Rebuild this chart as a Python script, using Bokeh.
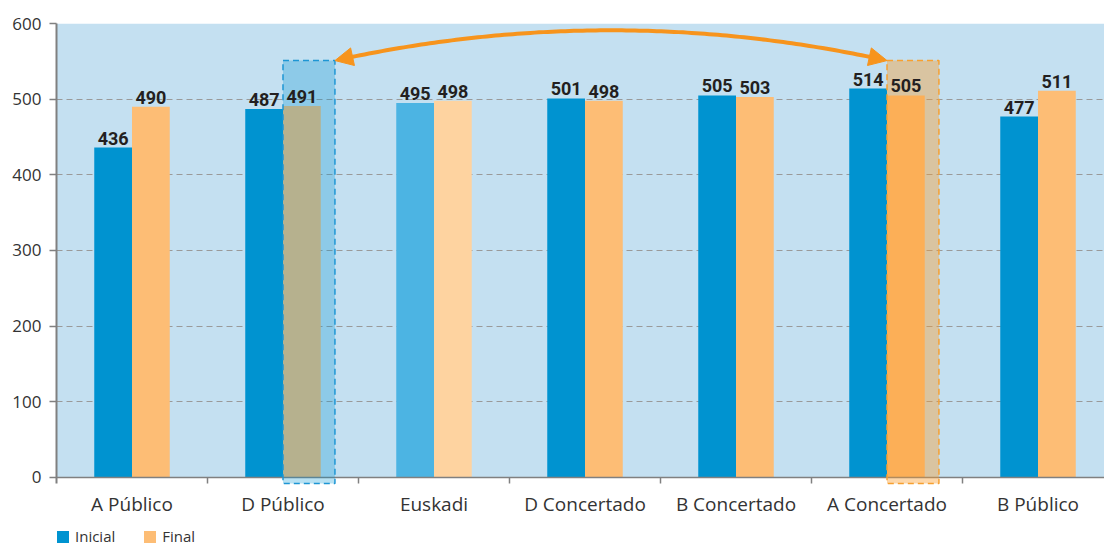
import numpy as np
from bokeh.plotting import figure
from bokeh.models import (ColumnDataSource, FixedTicker, Legend, LegendItem,
                          Arrow, NormalHead)
from bokeh.embed import file_html
from bokeh.resources import INLINE
from bokeh.core.properties import value

# ---------------- data ----------------
categories = ["A Público", "D Público", "Euskadi", "D Concertado",
              "B Concertado", "A Concertado", "B Público"]
inicial = [436, 487, 495, 501, 505, 514, 477]
final = [490, 491, 498, 498, 503, 505, 511]
inicial_colors = ["#0093D0", "#0093D0", "#4CB4E3", "#0093D0", "#0093D0", "#0093D0", "#0093D0"]
final_colors = ["#FDBD75", "#FDBD75", "#FED3A0", "#FDBD75", "#FDBD75", "#FDBD75", "#FDBD75"]
y_ticks = [0, 100, 200, 300, 400, 500, 600]
grid_ticks = [100, 200, 300, 400, 500]
highlight_blue = "D Público"
highlight_orange = "A Concertado"
highlight_top = 551
arrow_peak = 591
series_names = ["Inicial", "Final"]

# ---------------- layout / style ----------------
BG = "#C4E0F1"
ORANGE = "#F7941D"
AXIS_GREY = "#808080"
TXT = "#333333"
LABEL_FONT = "Roboto"

n = len(categories)
bw = 0.25
box_extra = 0.094
centers = np.arange(n) + 0.5
x_end = 1048 / 151.0
px_per_unit = 460 / 608.0          # vertical scale
frame_h = 523                       # frame reaches the page bottom
y_min = y_ticks[-1] - frame_h / px_per_unit
tick_drop = -8                      # boundary ticks hang below the zero line

p = figure(frame_width=1048, frame_height=frame_h, x_range=(0, x_end),
           y_range=(y_min, y_ticks[-1]),
           output_backend="svg", toolbar_location=None,
           min_border_left=56, min_border_right=0, min_border_top=23,
           min_border_bottom=0)
p.background_fill_color = "white"
p.border_fill_color = "white"
p.outline_line_color = None

# plot-area background (0 .. 600)
p.quad(left=[0], right=[n], bottom=[0], top=[y_ticks[-1]], fill_color=BG,
       line_color=None, level="image")

# grid
p.xgrid.visible = False
p.ygrid.ticker = FixedTicker(ticks=grid_ticks)
p.ygrid.grid_line_color = "#9A9A9A"
p.ygrid.grid_line_dash = "6 4"
p.ygrid.grid_line_width = 1

# bars
src_i = ColumnDataSource(dict(x=centers - bw / 2, top=inicial, color=inicial_colors))
src_f = ColumnDataSource(dict(x=centers + bw / 2, top=final, color=final_colors))
r_i = p.vbar(x="x", top="top", bottom=0, width=bw, fill_color="color",
             line_color=None, source=src_i)
r_f = p.vbar(x="x", top="top", bottom=0, width=bw, fill_color="color",
             line_color=None, source=src_f)

# x axis line and category boundary ticks
p.segment(x0=[0], y0=[0], x1=[n], y1=[0], line_color=AXIS_GREY, line_width=1.5)
bounds = np.arange(1, n)
p.segment(x0=bounds, y0=np.zeros(len(bounds)), x1=bounds,
          y1=np.full(len(bounds), tick_drop), line_color=AXIS_GREY, line_width=1.5)

# highlight boxes
ib = categories.index(highlight_blue)
io = categories.index(highlight_orange)
for idx, col, lcol, alpha in [(ib, "#0092D0", "#1E96D4", 0.28),
                              (io, "#FA9B2A", "#F7A030", 0.40)]:
    p.quad(left=[centers[idx]], right=[centers[idx] + bw + box_extra],
           bottom=[tick_drop], top=[highlight_top], fill_color=col, fill_alpha=alpha,
           line_color=lcol, line_dash="6 4", line_width=1.5)

# value labels
for xs, vals in [(centers - bw / 2, inicial), (centers + bw / 2, final)]:
    p.text(x=xs, y=vals, text=[str(v) for v in vals], text_align="center",
           text_baseline="bottom", y_offset=-3, text_font=value(LABEL_FONT),
           text_font_style="bold", text_font_size="18px", text_color="#231F20")

# curved double arrow
x0a = centers[ib] + bw + box_extra
x2a = centers[io]
xc = (x0a + x2a) / 2
yc = 2 * arrow_peak - highlight_top
t = np.linspace(0.03, 0.97, 120)
cx = (1 - t) ** 2 * x0a + 2 * (1 - t) * t * xc + t ** 2 * x2a
cy = (1 - t) ** 2 * highlight_top + 2 * (1 - t) * t * yc + t ** 2 * highlight_top
p.line(cx, cy, line_color=ORANGE, line_width=4)
for (xe, ye) in [(x0a, highlight_top), (x2a, highlight_top)]:
    p.add_layout(Arrow(end=NormalHead(size=18, fill_color=ORANGE, line_color=ORANGE,
                                      line_width=1),
                       x_start=xc, y_start=yc, x_end=xe, y_end=ye, line_alpha=0))

# axes
p.yaxis.ticker = FixedTicker(ticks=y_ticks)
p.yaxis.bounds = (tick_drop, y_ticks[-1])
p.yaxis.axis_line_color = AXIS_GREY
p.yaxis.axis_line_width = 2
p.yaxis.major_tick_line_color = AXIS_GREY
p.yaxis.major_tick_line_width = 1.5
p.yaxis.major_tick_out = 7
p.yaxis.major_tick_in = 0
p.yaxis.minor_tick_line_color = None
p.yaxis.major_label_standoff = 8
p.yaxis.major_label_text_font = "Open Sans"
p.yaxis.major_label_text_font_size = "17px"
p.yaxis.major_label_text_color = TXT

p.xaxis.fixed_location = tick_drop
p.xaxis.ticker = FixedTicker(ticks=list(centers))
p.xaxis.major_label_overrides = {float(c): lab for c, lab in zip(centers, categories)}
p.xaxis.axis_line_color = None
p.xaxis.major_tick_line_color = None
p.xaxis.minor_tick_line_color = None
p.xaxis.major_tick_out = 0
p.xaxis.major_tick_in = 0
p.xaxis.major_label_standoff = 7
p.xaxis.major_label_text_font = "Open Sans"
p.xaxis.major_label_text_font_size = "19px"
p.xaxis.major_label_text_color = TXT

legend = Legend(items=[LegendItem(label=series_names[0], renderers=[r_i], index=0),
                       LegendItem(label=series_names[1], renderers=[r_f], index=0)],
                orientation="horizontal", location=(-1, 0),
                glyph_width=15, glyph_height=15, label_height=15, spacing=27,
                label_standoff=5, padding=0, margin=0, border_line_alpha=0,
                background_fill_alpha=0,
                label_text_font="Open Sans", label_text_font_size="15px",
                label_text_color=TXT)
p.add_layout(legend)

open("out.html", "w").write(file_html(p, INLINE))
